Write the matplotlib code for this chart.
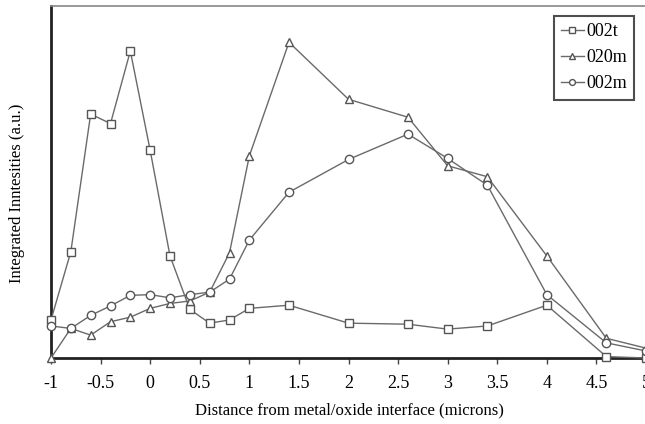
import numpy as np
import matplotlib
matplotlib.use('Agg')
import matplotlib.pyplot as plt

plt.rcParams['font.family'] = ['Liberation Serif', 'DejaVu Serif']

# distance from metal/oxide interface (microns)
x = [-1, -0.8, -0.6, -0.4, -0.2, 0, 0.2, 0.4, 0.6, 0.8, 1.0, 1.4,
     2.0, 2.6, 3.0, 3.4, 4.0, 4.6, 5.0]

# integrated intensities (a.u.)
i_002t = [10.8, 30.2, 69.3, 66.6, 87.2, 59.0, 29.0, 13.8, 9.9, 10.8, 14.1,
          15.0, 9.9, 9.6, 8.2, 9.1, 15.0, 0.4, 0.0]
i_020m = [0.0, 8.4, 6.5, 10.3, 11.6, 14.1, 15.5, 16.2, 18.7, 29.9, 57.4,
          89.7, 73.5, 68.4, 54.6, 51.5, 29.0, 5.6, 2.8]
i_002m = [9.1, 8.4, 12.1, 14.8, 17.8, 18.0, 17.1, 18.0, 18.7, 22.4, 33.5,
          47.1, 56.4, 63.6, 56.7, 49.1, 18.0, 4.3, 2.0]

series = [('002t', i_002t, 's'), ('020m', i_020m, '^'), ('002m', i_002m, 'o')]
xticks = [-1, -0.5, 0, 0.5, 1, 1.5, 2, 2.5, 3, 3.5, 4, 4.5, 5]
xticklabels = ['-1', '-0.5', '0', '0.5', '1', '1.5', '2', '2.5', '3', '3.5',
               '4', '4.5', '5']

fig = plt.figure(figsize=(6.45, 4.24), dpi=100)
ax = fig.add_axes([51 / 645, 66 / 424, 595 / 645, 352 / 424])

line_col = '#6a6a6a'
for name, vals, mk in series:
    ax.plot(x, vals, color=line_col, lw=1.0, marker=mk, ms=6,
            mfc='white', mec='#555555', mew=1.0, label=name, clip_on=False,
            zorder=3)

ax.set_xlim(-1, 5)
ax.set_ylim(0, 100)
ax.set_xticks(xticks)
ax.set_xticklabels(xticklabels, fontsize=13)
ax.set_yticks([])
ax.tick_params(axis='x', direction='out', length=4, width=1, pad=8,
               color='#444444')

ax.spines['left'].set_linewidth(2)
ax.spines['left'].set_color('#222222')
ax.spines['bottom'].set_linewidth(2)
ax.spines['bottom'].set_color('#222222')
ax.spines['top'].set_linewidth(1.2)
ax.spines['top'].set_color('#888888')
ax.spines['right'].set_visible(False)

fig.text(349 / 645, 1 - 410 / 424, 'Distance from metal/oxide interface (microns)',
         ha='center', va='center', fontsize=12)
fig.text(17 / 645, 1 - 193 / 424, 'Integrated Inntesities (a.u.)',
         ha='center', va='center', rotation=90, fontsize=12)

leg = ax.legend(loc='upper right', bbox_to_anchor=(634 / 645, 1 - 16 / 424),
                bbox_transform=fig.transFigure, fontsize=13, frameon=True,
                fancybox=False, handlelength=1.3, handletextpad=0.1,
                borderpad=0.4, labelspacing=0.5, markerscale=0.7,
                borderaxespad=0)
leg.get_frame().set_edgecolor('#222222')
leg.get_frame().set_linewidth(1.5)

fig.savefig('out.png', dpi=100)
